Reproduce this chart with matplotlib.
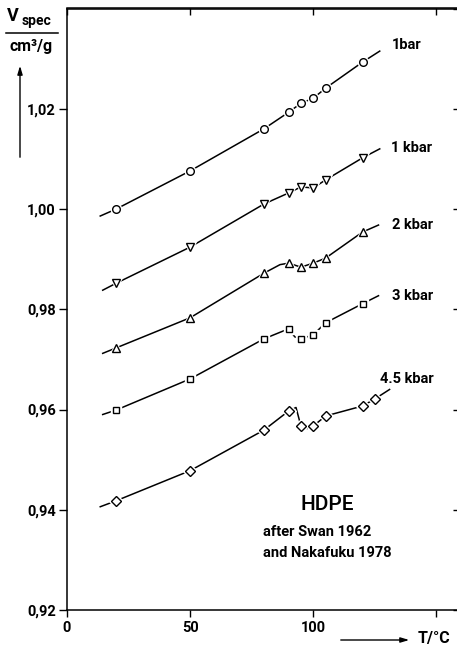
import matplotlib.pyplot as plt
from matplotlib.lines import Line2D

plt.rcParams['font.family'] = ['Roboto', 'DejaVu Sans']
plt.rcParams['font.weight'] = 'bold'

# measured points (T in degC, specific volume in cm3/g)
t_pts = [20, 50, 80, 90, 95, 100, 105, 120]
t_pts_45 = [20, 50, 80, 90, 95, 100, 105, 120, 125]
v_1bar = [1.0000, 1.0076, 1.0160, 1.0193, 1.0211, 1.0221, 1.0241, 1.0293]
v_1kbar = [0.9852, 0.9924, 1.0010, 1.0032, 1.0044, 1.0042, 1.0058, 1.0102]
v_2kbar = [0.9723, 0.9783, 0.9872, 0.9892, 0.9884, 0.9892, 0.9902, 0.9954]
v_3kbar = [0.9599, 0.9661, 0.9741, 0.9761, 0.9741, 0.9749, 0.9773, 0.9811]
v_45kbar = [0.9418, 0.9478, 0.9559, 0.9597, 0.9567, 0.9567, 0.9587, 0.9607, 0.9621]

# drawn curves
ct_1bar = [13.5, 20, 50, 80, 90, 95, 100, 105, 120, 127]
cv_1bar = [0.9986, 1.0000, 1.0076, 1.0160, 1.0193, 1.0211, 1.0221, 1.0241, 1.0293, 1.0315]
ct_1kbar = [14.5, 20, 50, 80, 90, 95, 100, 105, 120, 127]
cv_1kbar = [0.9838, 0.9852, 0.9924, 1.0010, 1.0032, 1.0044, 1.0042, 1.0058, 1.0102, 1.0120]
ct_2kbar = [14.5, 20, 50, 80, 86.5, 90, 95, 100, 105, 120, 126.5]
cv_2kbar = [0.9712, 0.9723, 0.9783, 0.9872, 0.9889, 0.9892, 0.9884, 0.9892, 0.9902, 0.9954, 0.9968]
ct_3kbar = [14.5, 20, 50, 80, 90, 92.5, 95, 100, 105, 120, 126.5]
cv_3kbar = [0.9590, 0.9599, 0.9661, 0.9741, 0.9761, 0.9745, 0.9741, 0.9749, 0.9773, 0.9811, 0.9827]
ct_45kbar = [13.5, 20, 50, 80, 90, 93, 95, 97.5, 100, 105, 120, 125, 131]
cv_45kbar = [0.9406, 0.9418, 0.9478, 0.9559, 0.9597, 0.9604, 0.9567, 0.9562, 0.9567, 0.9587, 0.9607, 0.9621, 0.9640]

labels = ['1bar', '1 kbar', '2 kbar', '3 kbar', '4.5 kbar']
markers = ['o', 'v', '^', 's', 'D']

fig = plt.figure(figsize=(4.57, 6.48), dpi=100)
ax = fig.add_axes([67/457, 38/648, 394/457, 601.5/648])

series = [
    (ct_1bar, cv_1bar, t_pts, v_1bar),
    (ct_1kbar, cv_1kbar, t_pts, v_1kbar),
    (ct_2kbar, cv_2kbar, t_pts, v_2kbar),
    (ct_3kbar, cv_3kbar, t_pts, v_3kbar),
    (ct_45kbar, cv_45kbar, t_pts_45, v_45kbar),
]
sizes = [5.5, 6, 6, 4.8, 5]
for (ct, cv, t, v), m, ms in zip(series, markers, sizes):
    ax.plot(ct, cv, color='black', lw=1.1, zorder=1)
    # white halo to break the line around each marker
    ax.plot(t, v, ls='none', marker=m, ms=ms + 2, mfc='white', mec='white', zorder=2)
    ax.plot(t, v, ls='none', marker=m, ms=ms, mfc='white', mec='black', mew=1.0, zorder=3)

lab_pos = [(132, 1.0327), (131.7, 1.0122), (132, 0.9968), (132, 0.9826), (127.2, 0.9661)]
for lab, (x, y) in zip(labels, lab_pos):
    ax.text(x, y, lab, fontsize=10.5, ha='left', va='center')

ax.text(105.7, 0.9410, 'HDPE', fontsize=15, ha='center', va='center', fontweight='medium')
ax.text(79.7, 0.9356, 'after Swan 1962', fontsize=10.5, ha='left', va='center')
ax.text(79.7, 0.9314, 'and Nakafuku 1978', fontsize=10.5, ha='left', va='center')

ax.set_xlim(0, 160)
ax.set_ylim(0.92, 1.04)
ax.set_xticks([0, 50, 100, 150], ['0', '50', '100', ''])
yt = [0.92, 0.94, 0.96, 0.98, 1.00, 1.02]
ax.set_yticks(yt, [f'{y:.2f}'.replace('.', ',') for y in yt])
ax.tick_params(axis='both', labelsize=10.5, width=1.0)
ax.tick_params(axis='y', direction='out', length=6, pad=2)
ax.tick_params(axis='x', direction='out', length=5, pad=3)
ax.spines['right'].set_visible(False)
for s in ['left', 'bottom', 'top']:
    ax.spines[s].set_linewidth(1.1)

# inward ticks on top and right
top = ax.secondary_xaxis('top')
top.set_xticks([0, 50, 100, 150], [])
top.tick_params(direction='in', length=5, width=1.0)
top.spines['top'].set_linewidth(1.1)
right = ax.secondary_yaxis('right')
right.set_yticks(yt + [1.04], [])
right.tick_params(direction='in', length=6, width=1.0)

# y axis label as fraction with arrow
fig.text(7/457, 1 - 16/648, 'V', fontsize=13, ha='left', va='center')
fig.text(22/457, 1 - 21/648, 'spec', fontsize=10, ha='left', va='center')
fig.add_artist(Line2D([6/457, 58/457], [1 - 33/648, 1 - 33/648], color='black', lw=1.1))
fig.text(31/457, 1 - 46/648, 'cm³/g', fontsize=11.5, ha='center', va='center')
ax.annotate('', xy=(20, 648 - 63), xytext=(20, 648 - 160), xycoords='figure pixels',
            textcoords='figure pixels',
            arrowprops=dict(arrowstyle='-|>,head_length=0.5,head_width=0.15', lw=1.0, color='black'))

# x axis label with arrow
ax.annotate('', xy=(412, 8), xytext=(338, 8), xycoords='figure pixels',
            textcoords='figure pixels',
            arrowprops=dict(arrowstyle='-|>,head_length=0.5,head_width=0.15', lw=1.0, color='black'))
fig.text(418/457, 9/648, 'T/°C', fontsize=11.5, ha='left', va='center')

fig.savefig('out.png', dpi=100)
